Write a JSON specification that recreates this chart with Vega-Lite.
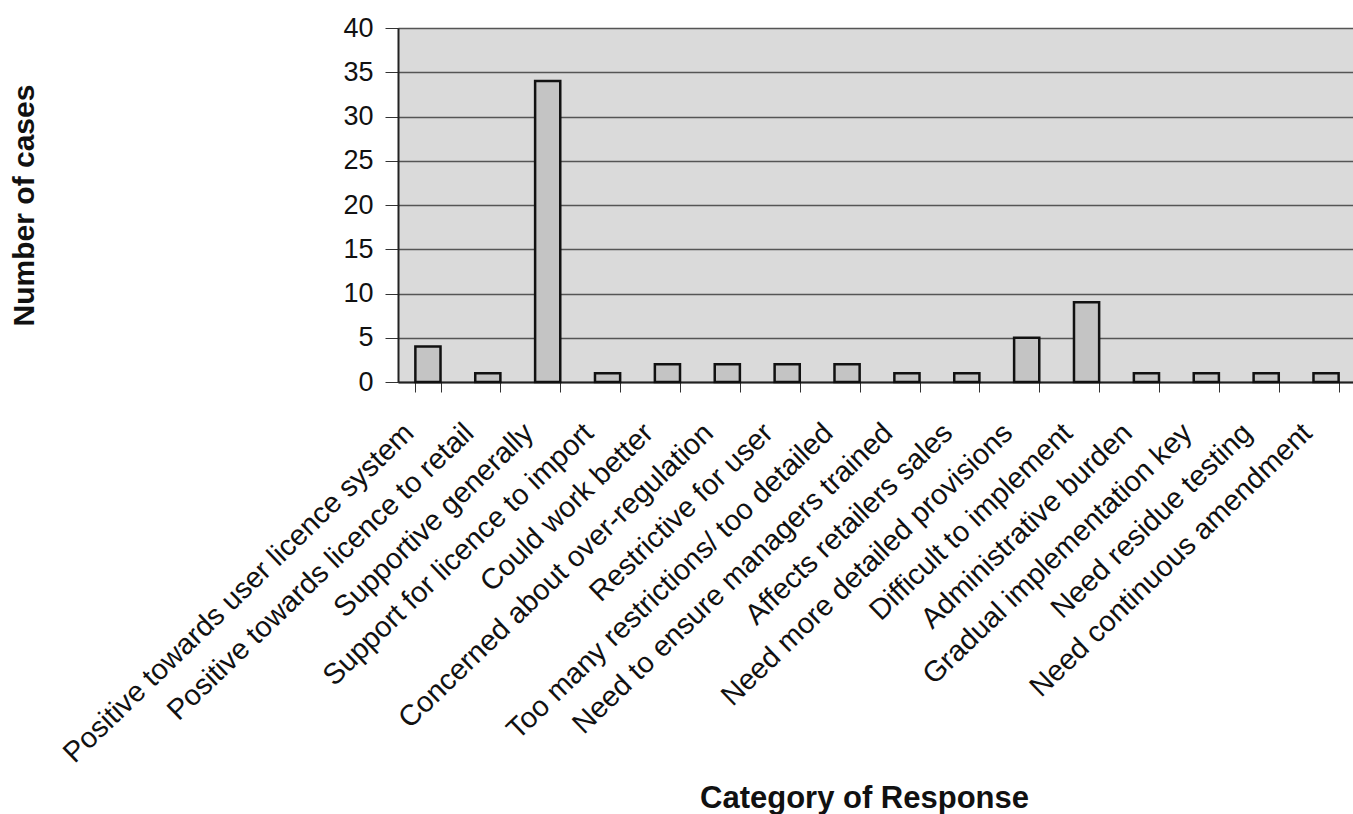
{
  "$schema": "https://vega.github.io/schema/vega-lite/v6.json",
  "width": 958,
  "height": 354,
  "autosize": {"type": "none"},
  "padding": {"left": 398, "top": 28, "right": 0, "bottom": 432},
  "background": "white",
  "config": {
    "font": "Liberation Sans",
    "view": {"fill": "#dadada", "stroke": "#555555", "strokeWidth": 1},
    "axis": {"labelFont": "Liberation Sans", "titleFont": "Liberation Sans"}
  },
  "data": {
    "values": [
      {"category": "Positive towards user licence system", "cases": 4},
      {"category": "Positive towards licence to retail", "cases": 1},
      {"category": "Supportive generally", "cases": 34},
      {"category": "Support for licence to import", "cases": 1},
      {"category": "Could work better", "cases": 2},
      {"category": "Concerned about over-regulation", "cases": 2},
      {"category": "Restrictive for user", "cases": 2},
      {"category": "Too many restrictions/ too detailed", "cases": 2},
      {"category": "Need to ensure managers trained", "cases": 1},
      {"category": "Affects retailers sales", "cases": 1},
      {"category": "Need more detailed provisions", "cases": 5},
      {"category": "Difficult to implement", "cases": 9},
      {"category": "Administrative burden", "cases": 1},
      {"category": "Gradual implementation key", "cases": 1},
      {"category": "Need residue testing", "cases": 1},
      {"category": "Need continuous amendment", "cases": 1}
    ]
  },
  "mark": {"type": "bar", "fill": "#c4c4c4", "stroke": "#111111", "strokeWidth": 2.5},
  "encoding": {
    "x": {
      "field": "category",
      "type": "nominal",
      "sort": null,
      "scale": {"paddingInner": 0.58, "paddingOuter": 0.29},
      "axis": {
        "title": "Category of Response",
        "titleFontSize": 31,
        "titleFontWeight": "bold",
        "titleColor": "#111111",
        "titleX": 466,
        "titleY": 401,
        "labelAngle": -44,
        "labelAlign": "right",
        "labelBaseline": "top",
        "labelFontSize": 29,
        "labelColor": "#111111",
        "labelPadding": 26,
        "labelOffset": -29,
        "labelLimit": 700,
        "labelOverlap": false,
        "tickBand": "extent",
        "tickSize": 10,
        "tickColor": "#333333",
        "domainColor": "#222222",
        "domainWidth": 2,
        "grid": false
      }
    },
    "y": {
      "field": "cases",
      "type": "quantitative",
      "scale": {"domain": [0, 40], "nice": false},
      "axis": {
        "title": "Number of cases",
        "titleFontSize": 30,
        "titleFontWeight": "bold",
        "titleColor": "#111111",
        "titleX": -359,
        "titleY": 177,
        "values": [0, 5, 10, 15, 20, 25, 30, 35, 40],
        "labelFontSize": 27,
        "labelColor": "#111111",
        "labelPadding": 12,
        "tickSize": 13,
        "tickColor": "#333333",
        "domainColor": "#222222",
        "domainWidth": 2,
        "grid": true,
        "gridColor": "#555555",
        "gridWidth": 1.5
      }
    }
  }
}
